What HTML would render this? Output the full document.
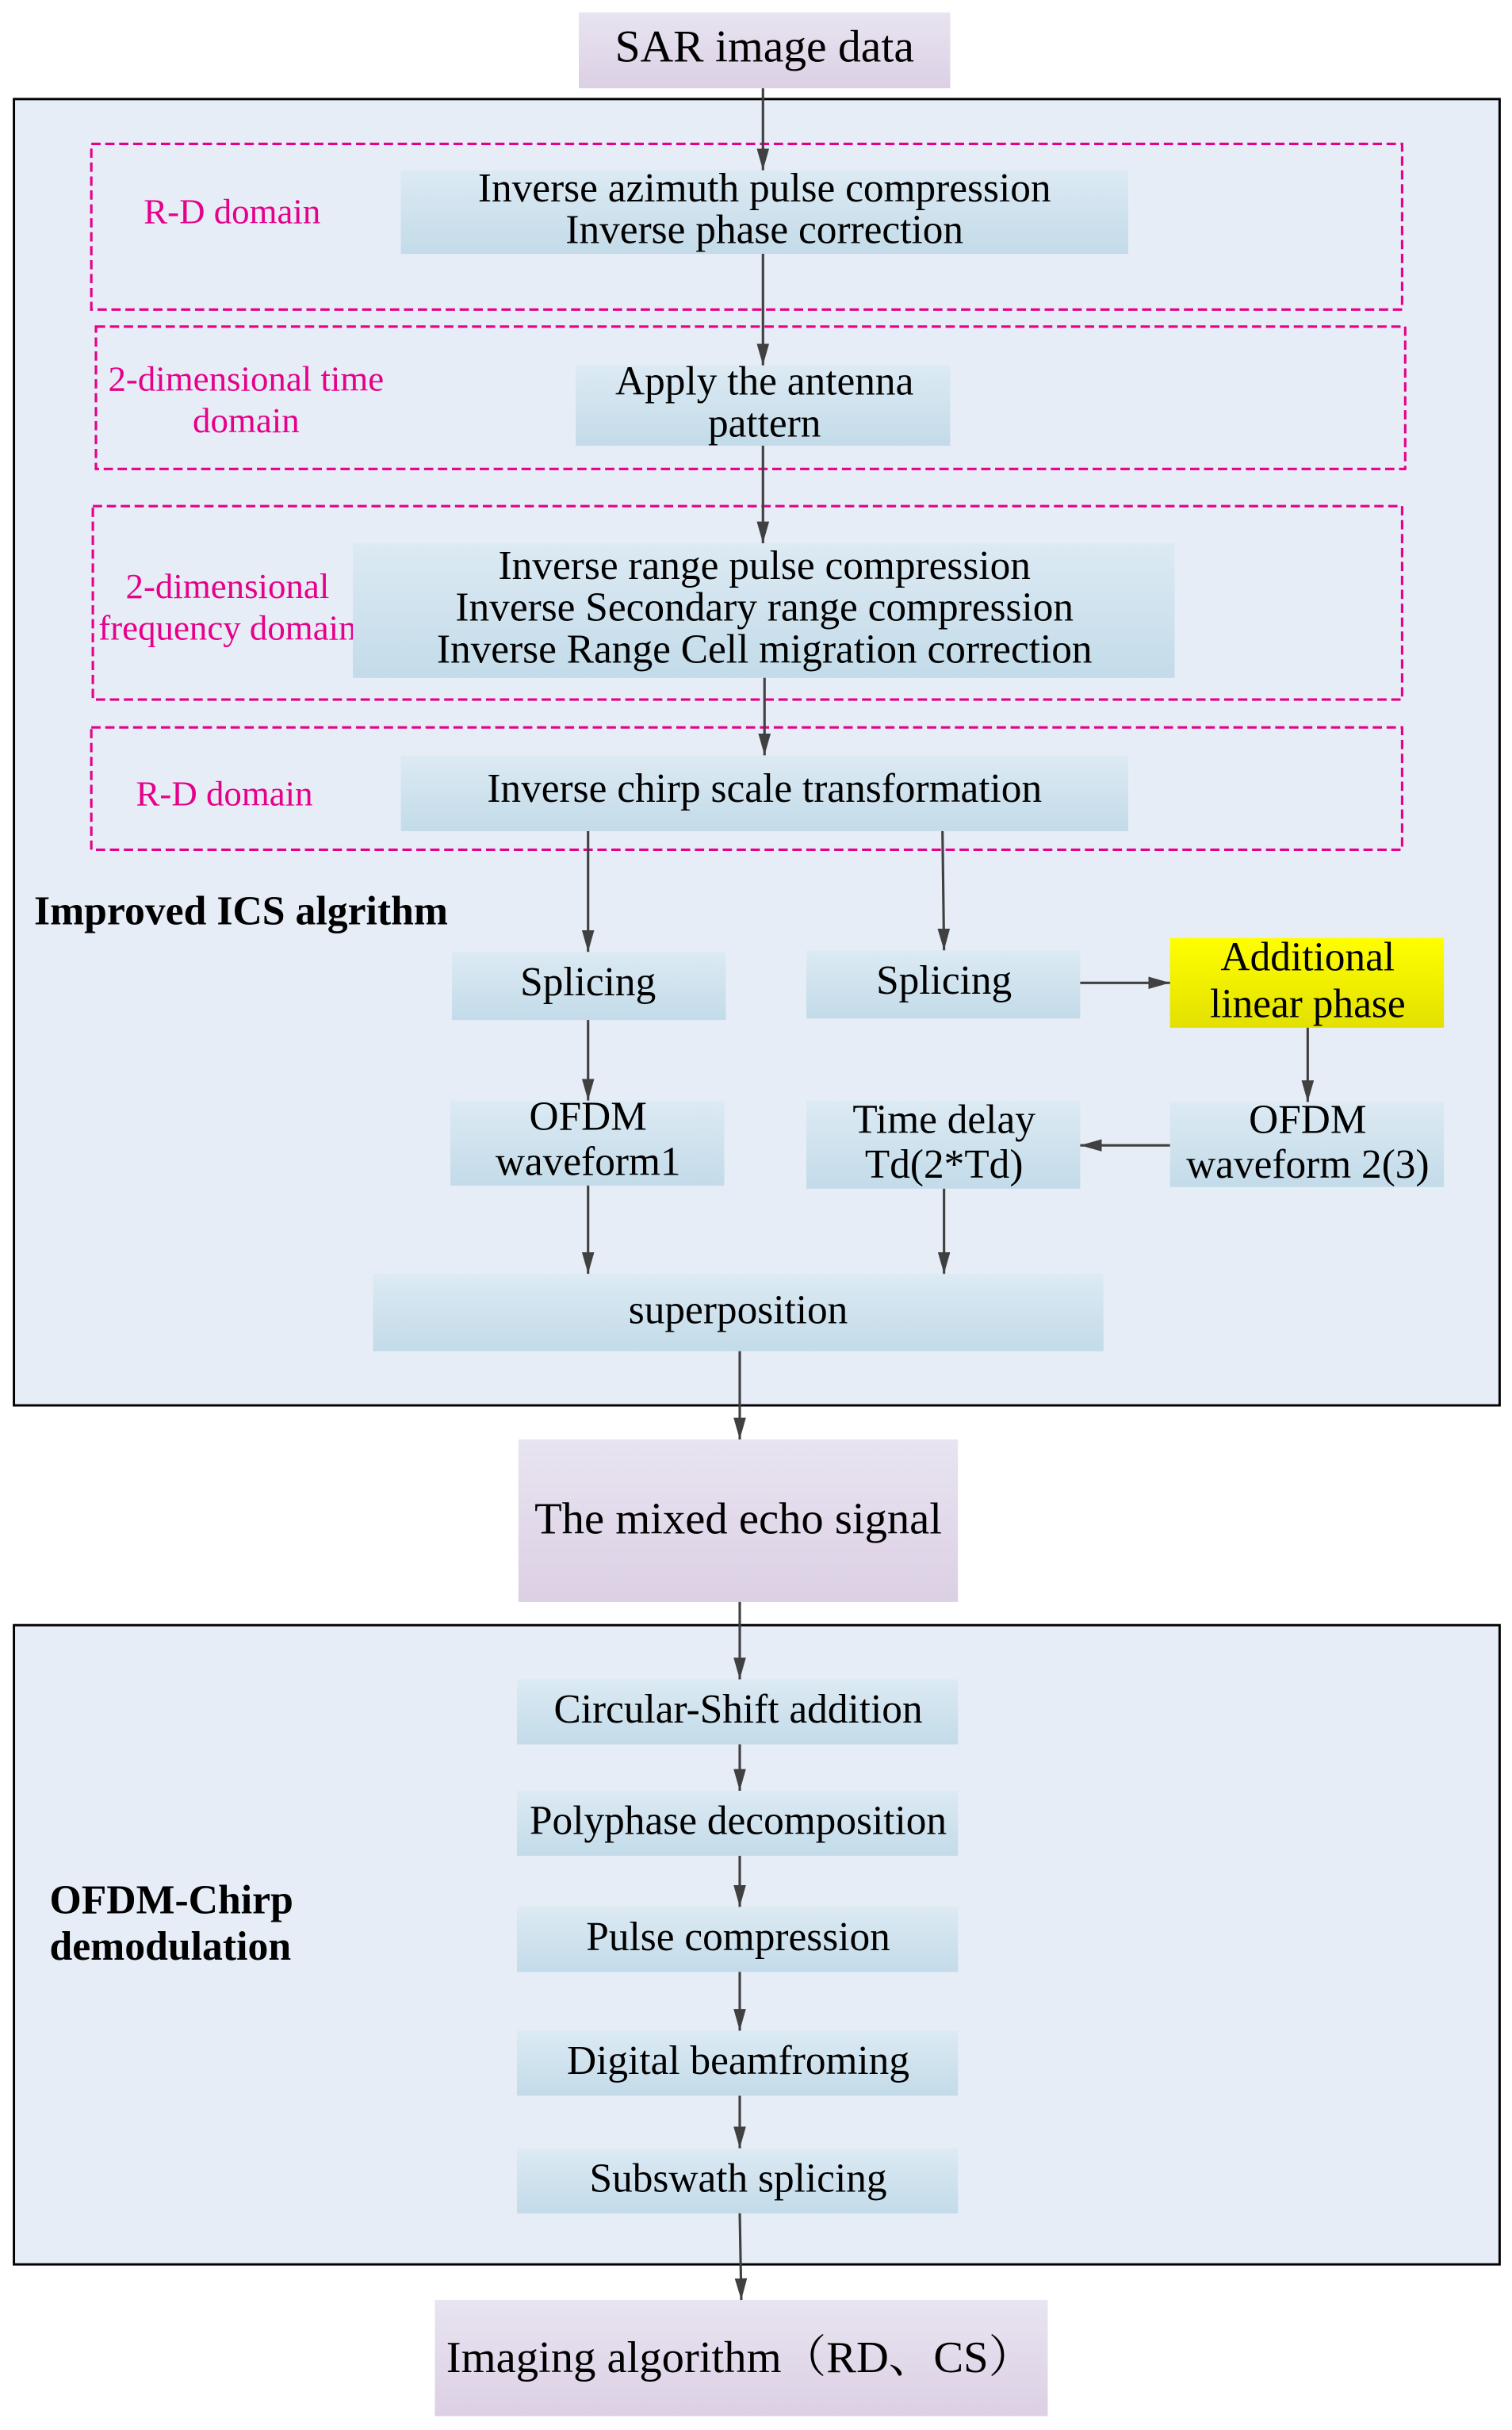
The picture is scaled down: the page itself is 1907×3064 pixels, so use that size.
<!DOCTYPE html>
<html><head><meta charset="utf-8"><style>
html,body{margin:0;padding:0;background:#fff}
svg{display:block}
text{font-family:"Liberation Serif","Noto Serif CJK SC",serif;text-anchor:middle;dominant-baseline:middle}
.t{font-size:26.3px;fill:#000}
.m{font-size:23px;fill:#e6008a;font-family:"Liberation Serif",serif}
.b{font-size:26.5px;font-weight:bold;text-anchor:start}
.box{fill:url(#bl)}
.pu{fill:url(#pu)}
.dash{fill:none;stroke:#e6008a;stroke-width:1.6;stroke-dasharray:6,3}
.ln{stroke:#404040;stroke-width:1.6;fill:none;marker-end:url(#ar)}
</style></head><body>
<svg width="1907" height="3064" viewBox="0 0 977 1570" preserveAspectRatio="none">
<defs>
<linearGradient id="bl" x1="0" y1="0" x2="0" y2="1"><stop offset="0" stop-color="#dceaf3"/><stop offset="1" stop-color="#c3dbe9"/></linearGradient>
<linearGradient id="pu" x1="0" y1="0" x2="0" y2="1"><stop offset="0" stop-color="#e8e4f1"/><stop offset="1" stop-color="#dcd0e4"/></linearGradient>
<linearGradient id="ye" x1="0" y1="0" x2="0" y2="1"><stop offset="0" stop-color="#ffff00"/><stop offset="1" stop-color="#e2e000"/></linearGradient>
<marker id="ar" markerWidth="16" markerHeight="12" refX="14" refY="6" orient="auto" markerUnits="userSpaceOnUse"><path d="M0,2 L14,6 L0,10 Z" fill="#404040"/></marker>
</defs>
<rect x="0" y="0" width="977" height="1570" fill="#fff"/>
<rect x="374" y="8" width="240" height="49" class="pu"/>
<text x="494" y="33" style="font-size:29.5px">SAR image data</text>

<rect x="9" y="64" width="960" height="844" fill="#e6edf7" stroke="#000" stroke-width="1.5"/>

<rect x="59" y="93" width="847" height="107" class="dash"/>
<text x="150" y="139" class="m">R-D domain</text>
<rect x="259" y="110" width="470" height="54" class="box"/>
<text x="494" y="124" class="t">Inverse azimuth pulse compression</text>
<text x="494" y="151" class="t">Inverse phase correction</text>

<rect x="62" y="211" width="846" height="92" class="dash"/>
<text x="159" y="247" class="m">2-dimensional time</text>
<text x="159" y="274" class="m">domain</text>
<rect x="372" y="236" width="242" height="52" class="box"/>
<text x="494" y="249" class="t">Apply the antenna</text>
<text x="494" y="276" class="t">pattern</text>

<rect x="60" y="327" width="846" height="125" class="dash"/>
<text x="147" y="381" class="m">2-dimensional</text>
<text x="147" y="408" class="m">frequency domain</text>
<rect x="228" y="351" width="531" height="87" class="box"/>
<text x="494" y="368" class="t">Inverse range pulse compression</text>
<text x="494" y="395" class="t">Inverse Secondary range compression</text>
<text x="494" y="422" class="t">Inverse Range Cell migration correction</text>

<rect x="59" y="470" width="847" height="79" class="dash"/>
<text x="145" y="515" class="m">R-D domain</text>
<rect x="259" y="488" width="470" height="49" class="box"/>
<text x="494" y="512" class="t">Inverse chirp scale transformation</text>

<text x="22" y="591" class="b">Improved ICS algrithm</text>

<rect x="292" y="615" width="177" height="44" class="box"/>
<text x="380" y="637" class="t">Splicing</text>
<rect x="521" y="614" width="177" height="44" class="box"/>
<text x="610" y="636" class="t">Splicing</text>
<rect x="756" y="606" width="177" height="58" fill="url(#ye)"/>
<text x="845" y="621" class="t">Additional</text>
<text x="845" y="651" class="t">linear phase</text>

<rect x="291" y="711" width="177" height="55" class="box"/>
<text x="380" y="724" class="t">OFDM</text>
<text x="380" y="753" class="t">waveform1</text>
<rect x="521" y="711" width="177" height="57" class="box"/>
<text x="610" y="726" class="t">Time delay</text>
<text x="610" y="755" class="t">Td(2*Td)</text>
<rect x="756" y="712" width="177" height="55" class="box"/>
<text x="845" y="726" class="t">OFDM</text>
<text x="845" y="755" class="t">waveform 2(3)</text>

<rect x="241" y="823" width="472" height="50" class="box"/>
<text x="477" y="849" class="t">superposition</text>

<rect x="335" y="930" width="284" height="105" class="pu"/>
<text x="477" y="984" style="font-size:29px">The mixed echo signal</text>

<rect x="9" y="1050" width="960" height="413" fill="#e6edf7" stroke="#000" stroke-width="1.5"/>
<text x="32" y="1230" class="b">OFDM-Chirp</text>
<text x="32" y="1260" class="b">demodulation</text>

<rect x="334" y="1085" width="285" height="42" class="box"/>
<text x="477" y="1107" class="t">Circular-Shift addition</text>
<rect x="334" y="1157" width="285" height="42" class="box"/>
<text x="477" y="1179" class="t">Polyphase decomposition</text>
<rect x="334" y="1232" width="285" height="42" class="box"/>
<text x="477" y="1254" class="t">Pulse compression</text>
<rect x="334" y="1312" width="285" height="42" class="box"/>
<text x="477" y="1334" class="t">Digital beamfroming</text>
<rect x="334" y="1388" width="285" height="42" class="box"/>
<text x="477" y="1410" class="t">Subswath splicing</text>

<rect x="281" y="1486" width="396" height="75" class="pu"/>
<text x="478" y="1526" style="font-size:29px">Imaging algorithm（RD、CS）</text>

<line x1="493" y1="57" x2="493" y2="110" class="ln"/>
<line x1="493" y1="164" x2="493" y2="236" class="ln"/>
<line x1="493" y1="288" x2="493" y2="351" class="ln"/>
<line x1="494" y1="438" x2="494" y2="488" class="ln"/>
<line x1="380" y1="537" x2="380" y2="615" class="ln"/>
<line x1="609" y1="537" x2="610" y2="614" class="ln"/>
<line x1="698" y1="635" x2="756" y2="635" class="ln"/>
<line x1="845" y1="664" x2="845" y2="712" class="ln"/>
<line x1="756" y1="740" x2="698" y2="740" class="ln"/>
<line x1="380" y1="659" x2="380" y2="711" class="ln"/>
<line x1="380" y1="766" x2="380" y2="823" class="ln"/>
<line x1="610" y1="768" x2="610" y2="823" class="ln"/>
<line x1="478" y1="873" x2="478" y2="930" class="ln"/>
<line x1="478" y1="1035" x2="478" y2="1085" class="ln"/>
<line x1="478" y1="1127" x2="478" y2="1157" class="ln"/>
<line x1="478" y1="1199" x2="478" y2="1232" class="ln"/>
<line x1="478" y1="1274" x2="478" y2="1312" class="ln"/>
<line x1="478" y1="1354" x2="478" y2="1388" class="ln"/>
<line x1="478" y1="1430" x2="479" y2="1486" class="ln"/>
</svg>
</body></html>
